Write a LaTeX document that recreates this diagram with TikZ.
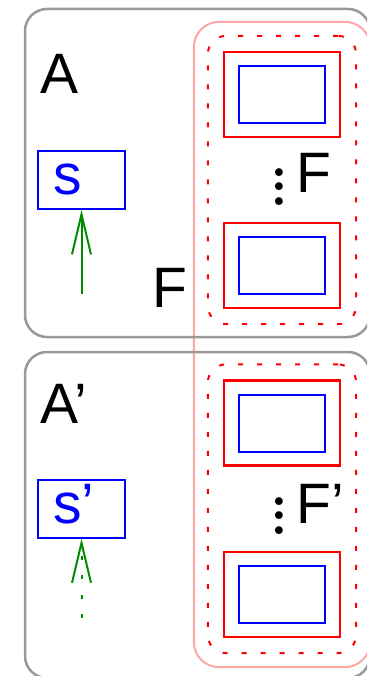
\documentclass[tikz,border=0pt]{standalone}
\usepackage{fontspec}
\newfontfamily\labelfont{Liberation Sans}
\usetikzlibrary{positioning, fit, arrows.meta}

\begin{document}
\begin{tikzpicture}[
    x=1pt, y=-1pt,
    label/.style={inner sep=0pt, font=\labelfont\fontsize{57}{60}\selectfont},
    outer/.style={draw=black!40, line width=2.5pt, rounded corners=22pt},
    slot/.style={draw=red, line width=2.2pt, minimum width=116pt, minimum height=85pt},
    inner/.style={draw=blue, line width=2pt, minimum width=86pt, minimum height=57pt},
    group/.style={draw=red, line width=2pt, dash pattern=on 5pt off 14pt, rounded corners=18pt, inner sep=15pt},
    family/.style={draw=red!35, line width=2pt, rounded corners=25pt, inner sep=13pt},
    sbox/.style={draw=blue, line width=2pt, text=blue, align=left, text width=57pt, inner xsep=15pt,
        minimum width=87pt, minimum height=58pt, text height=30pt, text depth=0.5pt,
        font=\labelfont\fontsize{57}{60}\selectfont},
    dots/.style={inner sep=0pt, align=center, font=\fontsize{95}{14.5}\selectfont},
    arrow/.style={-{Straight Barb[length=40pt, width=19pt]}, green!55!black, line width=2pt}
]
\useasboundingbox (0,0) rectangle (367,676);
\clip (0,0) rectangle (367,676);

% slots of F and F'
\node[slot] (f1) at (282,94.5) {};
\node[slot] (f2) at (282,265.5) {};
\node[slot] (g1) at (282,423) {};
\node[slot] (g2) at (282,594.5) {};
\foreach \n in {f1,f2,g1,g2}
    \node[inner] at (\n) {};
\node[group, fit=(f1)(f2)] (F) {};
\node[group, fit=(g1)(g2)] (G) {};
\node[family, fit=(F)(G)] (fam) {};

% the two boxes
\node[outer, minimum width=345pt, minimum height=328pt] (boxA) at (197.5,173) {};
\node[outer, minimum width=345pt, minimum height=326pt] (boxB) at (197.5,515) {};

\node[label, anchor=base west] (A) at (40,94) {A};
\node[label, anchor=base west] (Ap) at (40,423) {A’};
\node[label, anchor=base west] (Flab) at (152.5,307) {F};
\node[label, anchor=base west] (F1lab) at (296.5,193) {F};
\node[label, anchor=base west] (G1lab) at (296.5,523) {F’};
\node[dots] (d1) at (279,187) {.\\.\\.};
\node[dots] (d2) at (279,516) {.\\.\\.};

\node[sbox] (s) at (81.5,180) {s};
\node[sbox] (sp) at (81.5,508.5) {s’};
\coordinate (s0) at (81.5,294);
\coordinate (sp0) at (81.5,618);
\draw[arrow] (s0) -- (s);
\draw[arrow, dash pattern=on 4pt off 15.5pt] (sp0) -- (sp);
\end{tikzpicture}
\end{document}
